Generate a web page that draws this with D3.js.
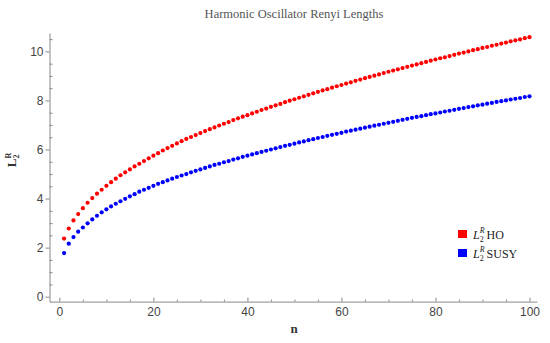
<!DOCTYPE html>
<html>
<head>
<meta charset="utf-8">
<script src="https://cdn.jsdelivr.net/npm/d3@7"></script>
<style>
  body { margin: 0; background: #fff; }
  svg { display: block; }
  .tick text { font-family: "Liberation Sans", Arial, sans-serif; font-size: 12px; fill: #444; }
  .axis path, .axis line { stroke: #888; }
</style>
</head>
<body>
<div id="chart"></div>
<script>
// n values and Renyi lengths
var nValues = d3.range(1, 101);

var hoValues = [
  2.37, 2.78, 3.11, 3.37, 3.61, 3.83, 4.02, 4.20, 4.36, 4.52,
  4.67, 4.81, 4.95, 5.07, 5.19, 5.31, 5.42, 5.53, 5.64, 5.75,
  5.85, 5.96, 6.06, 6.15, 6.25, 6.34, 6.43, 6.51, 6.59, 6.67,
  6.75, 6.83, 6.90, 6.98, 7.05, 7.12, 7.20, 7.27, 7.34, 7.40,
  7.47, 7.54, 7.61, 7.67, 7.74, 7.80, 7.86, 7.93, 7.99, 8.05,
  8.11, 8.17, 8.23, 8.29, 8.35, 8.41, 8.46, 8.52, 8.58, 8.63,
  8.69, 8.74, 8.80, 8.85, 8.91, 8.96, 9.01, 9.06, 9.12, 9.17,
  9.22, 9.27, 9.32, 9.37, 9.42, 9.47, 9.52, 9.57, 9.62, 9.67,
  9.72, 9.76, 9.81, 9.86, 9.91, 9.95, 10.00, 10.05, 10.09, 10.14,
  10.18, 10.23, 10.27, 10.32, 10.36, 10.41, 10.45, 10.49, 10.54, 10.58
];

var susyValues = [
  1.78, 2.16, 2.43, 2.65, 2.82, 2.99, 3.15, 3.30, 3.44, 3.56,
  3.68, 3.79, 3.89, 3.99, 4.09, 4.18, 4.28, 4.36, 4.44, 4.52,
  4.60, 4.67, 4.74, 4.81, 4.88, 4.94, 5.00, 5.07, 5.13, 5.19,
  5.25, 5.31, 5.37, 5.42, 5.48, 5.53, 5.59, 5.64, 5.70, 5.75,
  5.80, 5.85, 5.90, 5.95, 6.00, 6.05, 6.10, 6.15, 6.19, 6.24,
  6.29, 6.33, 6.38, 6.42, 6.47, 6.51, 6.56, 6.60, 6.64, 6.68,
  6.73, 6.77, 6.81, 6.85, 6.89, 6.93, 6.97, 7.01, 7.05, 7.09,
  7.13, 7.17, 7.21, 7.25, 7.29, 7.33, 7.36, 7.40, 7.44, 7.47,
  7.51, 7.55, 7.58, 7.62, 7.66, 7.69, 7.73, 7.76, 7.80, 7.83,
  7.87, 7.90, 7.94, 7.97, 8.00, 8.04, 8.07, 8.10, 8.14, 8.17
];

var xTicks = [0, 20, 40, 60, 80, 100];
var yTicks = [0, 2, 4, 6, 8, 10];

var width = 550;
var height = 343;

var svg = d3
  .select("#chart")
  .append("svg")
  .attr("width", width)
  .attr("height", height);

var xScale = d3.scaleLinear().domain([-2.1, 101.6]).range([49.5, 537]);
var yScale = d3.scaleLinear().domain([-0.2, 10.75]).range([301.6, 33]);

var xMinor = d3.range(0, 101, 5).filter(function(d) { return d % 20 !== 0; });
var yMinor = d3.range(0, 10.75, 0.5).filter(function(d) { return d % 2 !== 0; });

// x axis
var xAxisG = svg
  .append("g")
  .attr("class", "axis")
  .attr("transform", "translate(0," + yScale(-0.2) + ")");
xAxisG.call(d3.axisBottom(xScale).tickValues(xTicks).tickSize(-4).tickPadding(6).tickSizeOuter(0));
xAxisG
  .append("g")
  .call(d3.axisBottom(xScale).tickValues(xMinor).tickSize(-2).tickFormat("").tickSizeOuter(0))
  .select(".domain").remove();

// y axis
var yAxisG = svg
  .append("g")
  .attr("class", "axis")
  .attr("transform", "translate(" + xScale(-2.1) + ",0)");
yAxisG.call(d3.axisLeft(yScale).tickValues(yTicks).tickSize(4).tickPadding(2).tickSizeOuter(0));
yAxisG
  .append("g")
  .call(d3.axisLeft(yScale).tickValues(yMinor).tickSize(-3).tickFormat("").tickSizeOuter(0))
  .select(".domain").remove();
svg.selectAll(".tick text").attr("fill", "#444");

// points
var series = [
  { name: "HO", values: hoValues, color: "#ff0000" },
  { name: "SUSY", values: susyValues, color: "#0000ff" }
];

series.forEach(function(s) {
  svg
    .append("g")
    .selectAll("circle")
    .data(s.values)
    .enter()
    .append("circle")
    .attr("cx", function(d, i) { return xScale(nValues[i]); })
    .attr("cy", function(d) { return yScale(d); })
    .attr("r", 2.1)
    .attr("fill", s.color);
});

// title
svg
  .append("text")
  .attr("x", 294)
  .attr("y", 17.5)
  .attr("text-anchor", "middle")
  .style("font-family", "'Liberation Serif', 'DejaVu Serif', serif")
  .style("font-size", "12.5px")
  .attr("fill", "#555")
  .text("Harmonic Oscillator Renyi Lengths");

// x label
svg
  .append("text")
  .attr("x", 294)
  .attr("y", 333)
  .attr("text-anchor", "middle")
  .style("font-family", "'Liberation Serif', serif")
  .style("font-size", "13px")
  .style("font-weight", "bold")
  .attr("fill", "#333")
  .text("n");

// y label
var yLab = svg
  .append("text")
  .attr("transform", "translate(16,160) rotate(-90)")
  .attr("text-anchor", "middle")
  .style("font-family", "'Liberation Serif', serif")
  .style("font-size", "13px")
  .style("font-weight", "bold")
  .attr("fill", "#333");
yLab.append("tspan").text("L");
yLab.append("tspan").attr("dy", 3).style("font-size", "8px").text("2");
yLab.append("tspan").attr("dx", -4).attr("dy", -8).style("font-size", "8px").text("R");

// legend
var legend = svg.append("g").attr("transform", "translate(458,230)");
series.forEach(function(s, i) {
  var row = legend.append("g").attr("transform", "translate(0," + i * 19 + ")");
  row.append("rect").attr("width", 9).attr("height", 8).attr("fill", s.color);
  var t = row
    .append("text")
    .attr("x", 15)
    .attr("y", 8.5)
    .style("font-family", "'Liberation Serif', serif")
    .style("font-size", "12px")
    .attr("fill", "#222");
  t.append("tspan").style("font-style", "italic").text("L");
  t.append("tspan").attr("dy", 3).style("font-size", "8px").text("2");
  t.append("tspan").attr("dx", -4).attr("dy", -9).style("font-size", "8px").style("font-style", "italic").text("R");
  t.append("tspan").attr("dx", 2).attr("dy", 6).text(s.name);
});
</script>
</body>
</html>
